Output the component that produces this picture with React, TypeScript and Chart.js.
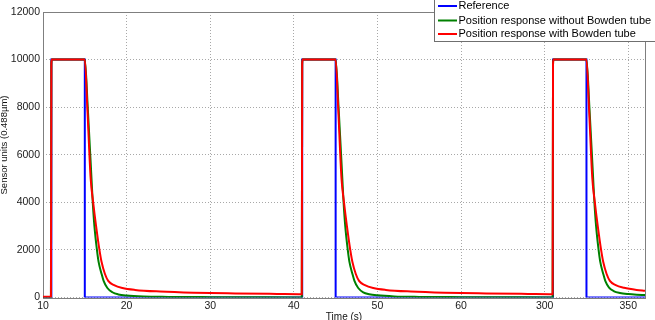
import React, { useEffect, useRef } from "react";
import { Chart, registerables } from "chart.js";

Chart.register(...registerables);

// Axis ticks (x positions are evenly spaced; labels as printed on the original figure)
const xTickValues = [10, 20, 30, 40, 50, 60, 70, 80];
const xTickLabels = ["10", "20", "30", "40", "50", "60", "300", "350"];
const yTickValues = [0, 2000, 4000, 6000, 8000, 10000, 12000];

const seriesNames = [
  "Reference",
  "Position response without Bowden tube",
  "Position response with Bowden tube",
];
const seriesColors = ["#0000ff", "#008000", "#ff0000"];

// Reference (square pulses)
const refTime = [10, 11, 11, 15, 15, 41, 41, 45, 45, 71, 71, 75, 75, 82];
const refValues = [0, 0, 10000, 10000, 0, 0, 10000, 10000, 0, 0, 10000, 10000, 0, 0];

// Position response without Bowden tube
const noTubeTime = [
  10, 10.95, 11.0, 11.05, 15.0, 15.35, 15.8, 15.95, 16.15, 16.45, 16.65, 17.0, 17.25, 17.7, 18.3, 19, 20, 22, 25, 30, 35, 40.95,
  41.0, 41.05, 45.0, 45.35, 45.8, 45.95, 46.15, 46.45, 46.65, 47.0, 47.25, 47.7, 48.3, 49, 50, 52, 55, 60, 65, 70.95,
  71.0, 71.05, 75.0, 75.35, 75.8, 75.95, 76.15, 76.45, 76.65, 77.0, 77.25, 77.7, 78.3, 79, 80, 81, 82,
];
const noTubeValues = [
  0, 0, 9800, 10000, 10000, 8000, 5000, 4000, 3000, 2000, 1500, 1000, 700, 400, 220, 130, 80, 40, 25, 15, 10, 5,
  9800, 10000, 10000, 8000, 5000, 4000, 3000, 2000, 1500, 1000, 700, 400, 220, 140, 90, 45, 25, 15, 10, 5,
  9800, 10000, 10000, 8000, 5000, 4000, 3000, 2000, 1500, 1000, 700, 420, 260, 190, 145, 120, 105,
];

// Position response with Bowden tube
const tubeTime = [
  10, 10.95, 11.0, 11.05, 15.0, 15.3, 15.7, 16.0, 16.35, 16.75, 17.0, 17.4, 17.8, 18.5, 19.5, 21, 24, 28, 33, 38, 40.95,
  41.0, 41.05, 45.0, 45.3, 45.7, 46.0, 46.35, 46.75, 47.0, 47.4, 47.8, 48.5, 49.5, 51, 54, 58, 63, 68, 70.95,
  71.0, 71.05, 75.0, 75.3, 75.7, 76.0, 76.35, 76.75, 77.0, 77.4, 77.8, 78.5, 79.5, 81, 82,
];
const tubeValues = [
  30, 30, 9800, 10000, 10000, 8000, 5000, 4000, 3000, 2000, 1500, 1000, 700, 520, 400, 320, 250, 200, 170, 150, 140,
  9800, 10000, 10000, 8000, 5000, 4000, 3000, 2000, 1500, 1000, 700, 520, 400, 320, 250, 200, 170, 150, 140,
  9800, 10000, 10000, 8000, 5000, 4000, 3000, 2000, 1500, 1000, 700, 520, 410, 320, 285,
];

const toPoints = (t: number[], v: number[]) => t.map((x, i) => ({ x, y: v[i] }));

const overlayPlugin = {
  id: "overlay",
  beforeDatasetsDraw(chart: any) {
    const { ctx, chartArea: a } = chart;
    ctx.save();
    ctx.strokeStyle = "#7f7f7f";
    ctx.lineWidth = 1;
    ctx.strokeRect(Math.round(a.left) + 0.5, Math.round(a.top) + 0.5, Math.round(a.right - a.left), Math.round(a.bottom - a.top));
    ctx.restore();
  },
  afterDraw(chart: any) {
    const { ctx, chartArea: a } = chart;
    ctx.save();
    // x-axis title
    ctx.fillStyle = "#111";
    ctx.font = "10px 'Liberation Sans', Arial, sans-serif";
    ctx.textAlign = "center";
    ctx.textBaseline = "alphabetic";
    ctx.fillText("Time (s)", (a.left + a.right) / 2, 320);
    // y-axis title
    ctx.save();
    ctx.translate(6.5, 145);
    ctx.rotate(-Math.PI / 2);
    ctx.font = "9.5px 'Liberation Sans', Arial, sans-serif";
    ctx.fillText("Sensor units (0.488\u00b5m)", 0, 0);
    ctx.restore();
    // legend
    const bx = 434.5, by = -1, bw = 230, bh = 42.5;
    ctx.fillStyle = "#ffffff";
    ctx.fillRect(bx, by, bw, bh);
    ctx.strokeStyle = "#6f6f6f";
    ctx.lineWidth = 1;
    ctx.strokeRect(bx, by, bw, bh);
    ctx.font = "11px 'Liberation Sans', Arial, sans-serif";
    ctx.textAlign = "left";
    ctx.textBaseline = "middle";
    const rows = [6, 20.5, 34];
    seriesNames.forEach((name, i) => {
      ctx.strokeStyle = seriesColors[i];
      ctx.lineWidth = 2;
      ctx.beginPath();
      ctx.moveTo(438, rows[i]);
      ctx.lineTo(457, rows[i]);
      ctx.stroke();
      ctx.fillStyle = "#000";
      ctx.fillText(name, 458.5, rows[i]);
    });
    ctx.restore();
  },
};

export default function App() {
  const ref = useRef<HTMLCanvasElement | null>(null);
  useEffect(() => {
    if (!ref.current) return;
    const gridColor = "#a8a8a8";
    const chart = new Chart(ref.current, {
      type: "line",
      data: {
        datasets: [
          { label: seriesNames[0], data: toPoints(refTime, refValues), borderColor: seriesColors[0], borderWidth: 2, pointRadius: 0, tension: 0, order: 3 },
          { label: seriesNames[1], data: toPoints(noTubeTime, noTubeValues), borderColor: seriesColors[1], borderWidth: 2, pointRadius: 0, cubicInterpolationMode: "monotone", order: 2 },
          { label: seriesNames[2], data: toPoints(tubeTime, tubeValues), borderColor: seriesColors[2], borderWidth: 2, pointRadius: 0, cubicInterpolationMode: "monotone", order: 1 },
        ] as any,
      },
      options: {
        animation: false,
        responsive: false,
        layout: { padding: { top: 12, right: 10, left: 0, bottom: 0 } },
        plugins: { legend: { display: false }, tooltip: { enabled: false } },
        scales: {
          x: {
            type: "linear",
            min: 10,
            max: 82,
            afterBuildTicks: (axis: any) => {
              axis.ticks = xTickValues.map((v) => ({ value: v }));
            },
            afterFit: (s: any) => {
              s.height = 22.5;
            },
            ticks: {
              autoSkip: false,
              maxRotation: 0,
              padding: 2,
              color: "#1a1a1a",
              font: { family: "'Liberation Sans', Arial, sans-serif", size: 10.5 },
              callback: (v: any) => {
                const i = xTickValues.indexOf(Number(v));
                return i >= 0 ? xTickLabels[i] : "";
              },
            },
            grid: { color: gridColor, drawTicks: false, lineWidth: 1 },
            border: { display: false, dash: [1, 2] },
          },
          y: {
            type: "linear",
            min: 0,
            max: 12000,
            afterBuildTicks: (axis: any) => {
              axis.ticks = yTickValues.map((v) => ({ value: v }));
            },
            afterFit: (s: any) => {
              s.width = 43;
            },
            ticks: {
              padding: 3,
              color: "#1a1a1a",
              font: { family: "'Liberation Sans', Arial, sans-serif", size: 10.5 },
              callback: (v: any) => String(v),
            },
            grid: { color: gridColor, drawTicks: false, lineWidth: 1 },
            border: { display: false, dash: [1, 2] },
          },
        },
      },
      plugins: [overlayPlugin],
    });
    return () => chart.destroy();
  }, []);
  return (
    <div style={{ position: "fixed", left: 0, top: 0, width: 655, height: 320, background: "#fff" }}>
      <canvas ref={ref} width={655} height={320} style={{ display: "block" }} />
    </div>
  );
}
